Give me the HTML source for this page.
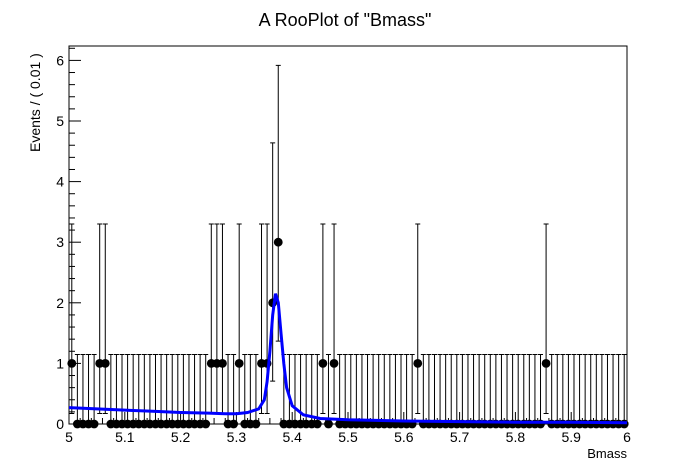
<!DOCTYPE html>
<html><head><meta charset="utf-8"><style>
html,body{margin:0;padding:0;background:#fff;}
svg{display:block;font-family:"Liberation Sans",sans-serif;}
</style></head><body>
<svg id="c" width="696" height="472">
<text x="345" y="26" font-size="18" text-anchor="middle">A RooPlot of "Bmass"</text>
<text transform="translate(40,152) rotate(-90)" font-size="14" text-anchor="start">Events / ( 0.01 )</text>
<text x="627" y="458" font-size="13" text-anchor="end">Bmass</text>
<rect x="69" y="46" width="558" height="378" fill="none" stroke="#000" stroke-width="1"/>
<g id="axes"></g><g id="errs"></g><g id="pts"></g><g id="curve"></g>
</svg>
<script>
// data
const nonzeroBins = [0,5,6,25,26,27,30,34,35,36,37,45,47,62,85];
const nonzeroCounts = [1,1,1,1,1,1,1,1,1,2,3,1,1,1,1];
const curveX = [5.0,5.05,5.1,5.15,5.2,5.25,5.28,5.3,5.32,5.34,5.35,5.355,5.36,5.365,5.37,5.375,5.38,5.385,5.39,5.4,5.42,5.45,5.5,5.6,5.7,5.8,5.9,6.0];
const curveY = [0.27,0.25,0.23,0.21,0.19,0.18,0.17,0.17,0.19,0.25,0.4,0.7,1.2,1.8,2.15,2.0,1.5,1.0,0.6,0.3,0.15,0.09,0.07,0.05,0.04,0.03,0.03,0.02];
const xTicks = ["5","5.1","5.2","5.3","5.4","5.5","5.6","5.7","5.8","5.9","6"];
const yTicks = ["0","1","2","3","4","5","6"];
const errLo = {0:0,1:0.173,2:0.708,3:1.367};
const errHi = {0:1.147,1:3.30,2:4.638,3:5.918};

const NS="http://www.w3.org/2000/svg";
const X0=69,X1=627,Y0=424,YS=60.6;
const sx=v=>X0+(v-5)*(X1-X0);
const sy=v=>Y0-v*YS;
function mk(tag,attrs,parent){const e=document.createElementNS(NS,tag);for(const k in attrs)e.setAttribute(k,attrs[k]);document.getElementById(parent).appendChild(e);return e;}
for(let i=0;i<=50;i++){const v=5+i*0.02;const maj=i%5===0;
 const t=mk('line',{x1:sx(v),x2:sx(v),y1:Y0,y2:Y0-(maj?12:6),stroke:'#000'},'axes');
 
 }
xTicks.forEach((s,i)=>{const t=mk('text',{x:sx(5+i*0.1),y:Y0+18,'font-size':14,'text-anchor':'middle'},'axes');t.textContent=s;
 
 });
for(let i=0;i<=31;i++){const v=i*0.2;const maj=i%5===0;if(sy(v)<46)break;
 const t=mk('line',{x1:X0,x2:X0+(maj?12:6),y1:sy(v),y2:sy(v),stroke:'#000'},'axes');
 
 }
yTicks.forEach((s,i)=>{const t=mk('text',{x:X0-5,y:sy(i)+5,'font-size':14,'text-anchor':'end'},'axes');t.textContent=s;
 
 });
for(let b=0;b<100;b++){
 const k=nonzeroBins.indexOf(b);const n=k>=0?nonzeroCounts[k]:0;
 const cx=sx(5.005+b*0.01);
 const lo=errLo[n],hi=errHi[n];
 const e=mk('path',{d:`M${cx},${sy(lo)}V${sy(hi)}M${cx-2.5},${sy(hi)}H${cx+2.5}`+(n>0?`M${cx-2.5},${sy(lo)}H${cx+2.5}`:''),stroke:'#000','stroke-width':1,fill:'none'},'errs');
 
 
 const p=mk('circle',{cx:cx,cy:sy(n),r:4.4,fill:'#000'},'pts');
 
 
}
const d=curveX.map((v,i)=>(i?'L':'M')+sx(v).toFixed(1)+','+sy(curveY[i]).toFixed(1)).join('');
const c=mk('path',{d:d,stroke:'#0000ff','stroke-width':3,fill:'none'},'curve');


</script>
</body></html>
